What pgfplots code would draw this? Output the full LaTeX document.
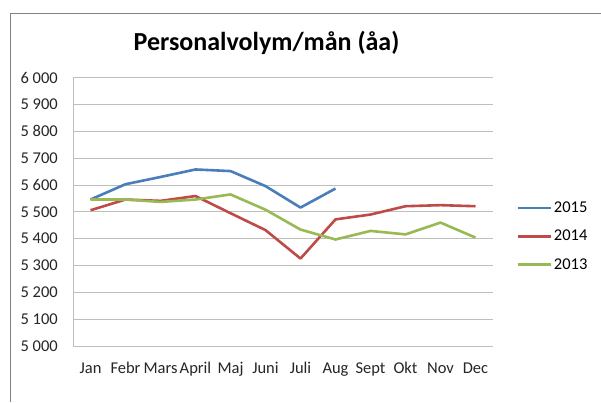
\documentclass[border=0pt]{standalone}
\usepackage{pgfplots}
\pgfplotsset{compat=1.18}
\usepackage{fontspec}
\setmainfont{Carlito}
\definecolor{c15}{RGB}{74,126,187}
\definecolor{c14}{RGB}{190,75,72}
\definecolor{c13}{RGB}{152,185,84}
\definecolor{gridc}{RGB}{190,190,190}
\begin{document}
\begin{tikzpicture}[x=1bp,y=1bp]
\useasboundingbox (0,0) rectangle (601,-402);
\fill[white] (0,0) rectangle (601,-402);
\draw[color={rgb,255:red,130;green,130;blue,130}, line width=1.5bp] (10.5,-402) -- (10.5,-13.5) -- (601,-13.5);
\node[anchor=base, font=\fontsize{26bp}{30bp}\selectfont\bfseries] at (266.5,-50) {Personalvolym/mån (åa)};
\begin{axis}[
  at={(73bp,-346bp)}, anchor=south west,
  scale only axis, width=420bp, height=268.3bp,
  xmin=-0.5, xmax=11.5, ymin=5000, ymax=6000,
  xtick={0,...,11},
  xticklabels={Jan,Febr,Mars,April,Maj,Juni,Juli,Aug,Sept,Okt,Nov,Dec},
  ytick={5000,5100,...,6000},
  yticklabels={5 000,5 100,5 200,5 300,5 400,5 500,5 600,5 700,5 800,5 900,6 000},
  major tick length=0pt,
  axis x line*=bottom, axis y line*=left,
  axis line style={gridc, line width=1bp, -},
  ymajorgrids, grid style={gridc, line width=1bp},
  tick label style={font=\fontsize{16.5bp}{19bp}\selectfont, text=black!85},
  yticklabel style={anchor=east, inner sep=0pt, xshift=-15bp},
  xticklabel style={anchor=base, inner sep=0pt, yshift=-27bp},
  legend style={draw=none, fill=none, at={(1.055,0.545)}, anchor=north west,
    font=\fontsize{16.5bp}{19bp}\selectfont, row sep=12bp, inner sep=0pt,
    cells={anchor=west}},
  legend image code/.code={\draw[#1, line width=2.6bp] (0,0) -- (33bp,0);},
  every axis plot/.append style={line width=2.6bp, line join=round},
]
\addplot[c15] coordinates {(0,5546) (1,5603) (2,5630) (3,5658) (4,5652) (5,5596) (6,5516) (7,5587)};
\addlegendentry{2015}
\addplot[c14] coordinates {(0,5506) (1,5546) (2,5541) (3,5559) (4,5495) (5,5432) (6,5326) (7,5472) (8,5490) (9,5521) (10,5525) (11,5521)};
\addlegendentry{2014}
\addplot[c13] coordinates {(0,5546) (1,5546) (2,5537) (3,5546) (4,5565) (5,5508) (6,5434) (7,5397) (8,5429) (9,5416) (10,5460) (11,5404)};
\addlegendentry{2013}
\end{axis}
\end{tikzpicture}
\end{document}
